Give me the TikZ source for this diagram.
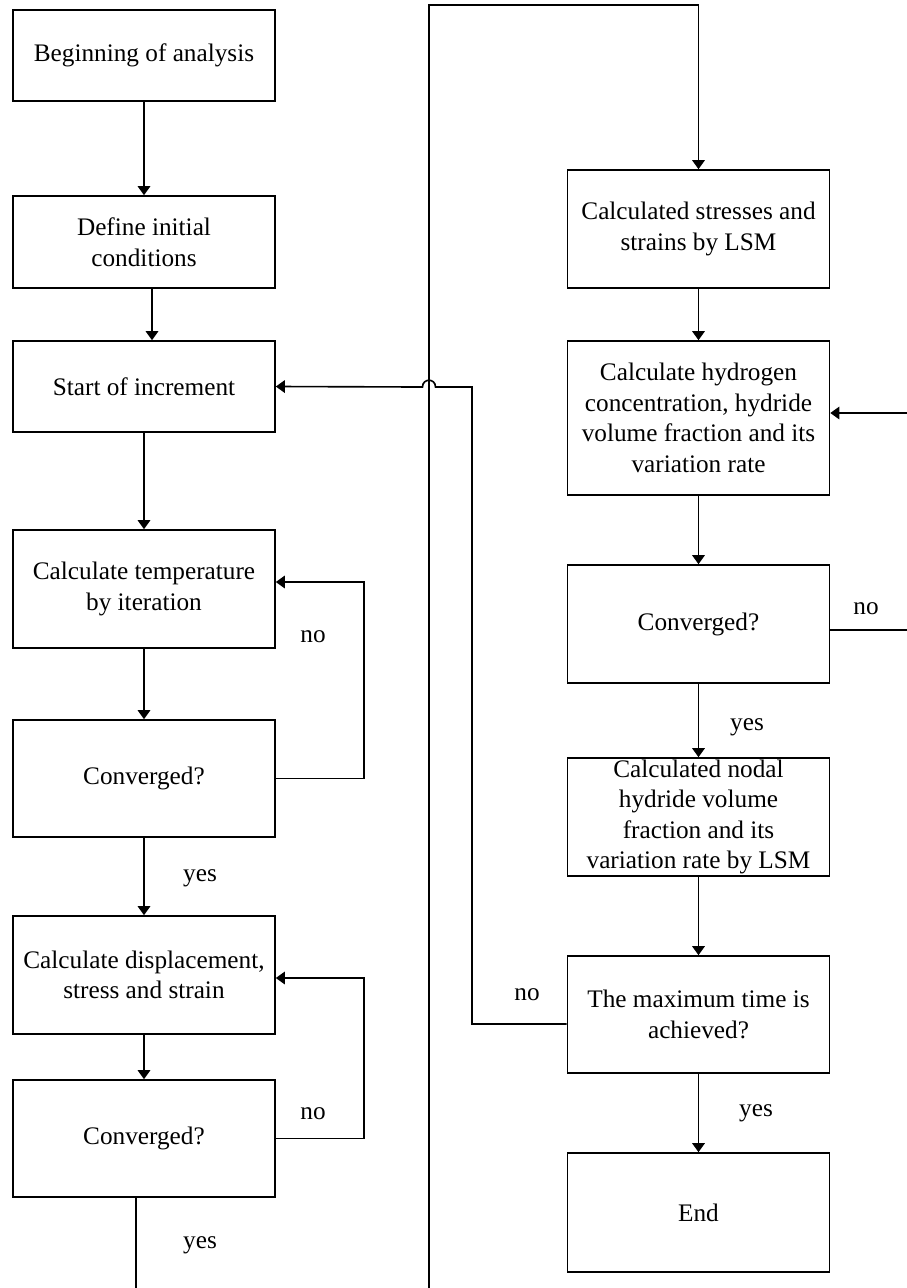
\documentclass[tikz,border=0pt]{standalone}
\usepackage{fontspec}
\setmainfont{Liberation Serif}
\usetikzlibrary{arrows.meta}

\tikzset{
  box/.style={draw,line width=0.65pt,inner sep=0pt,minimum width=262*0.4pt,align=center},
  link/.style={line width=0.65pt,-{Triangle[width=5pt,length=3.6pt]}},
  lbl/.style={inner sep=0pt}
}

\begin{document}
\begin{tikzpicture}[x=0.4pt,y=-0.4pt,font=\fontsize{10.1}{12.2}\selectfont]
\useasboundingbox (0,0) rectangle (907,1288);
\clip (0,0) rectangle (907,1288);

\node[box,minimum height=91*0.4pt] (begin) at (144,55.5) {Beginning of analysis};
\node[box,minimum height=92*0.4pt] (init) at (144,242) {Define initial\\conditions};
\node[box,minimum height=91*0.4pt] (incr) at (144,386.5) {Start of increment};
\node[box,minimum height=118*0.4pt] (temp) at (144,589) {Calculate temperature\\by iteration};
\node[box,minimum height=117*0.4pt] (convT) at (144,778.5) {Converged?};
\node[box,minimum height=118*0.4pt] (disp) at (144,975) {Calculate displacement,\\stress and strain};
\node[box,minimum height=117*0.4pt] (convD) at (144,1138.5) {Converged?};

\node[box,minimum height=118*0.4pt] (stress) at (698.5,229) {Calculated stresses and\\strains by LSM};
\node[box,minimum height=154*0.4pt] (hydro) at (698.5,418) {Calculate hydrogen\\concentration, hydride\\volume fraction and its\\variation rate};
\node[box,minimum height=118*0.4pt] (convH) at (698.5,624) {Converged?};
\node[box,minimum height=118*0.4pt] (nodal) at (698.5,817) {Calculated nodal\\hydride volume\\fraction and its\\variation rate by LSM};
\node[box,minimum height=117*0.4pt] (maxt) at (698.5,1014.5) {The maximum time is\\achieved?};
\node[box,minimum height=119*0.4pt] (finish) at (698.5,1212.5) {End};

\coordinate (tloop) at (364,582);
\coordinate (dloop) at (364,978);
\coordinate (hloop) at (915,413);
\coordinate (back) at (472,387);
\coordinate (under) at (429,1310);
\coordinate (over) at (429,5);

\draw[link] (begin) -- (init);
\draw[link] ([xshift=3.2pt]init.south) -- ([xshift=3.2pt]incr.north);
\draw[link] (incr) -- (temp);
\draw[link] (temp) -- (convT);
\draw[link] (convT) -- (disp);
\draw[link] (disp) -- (convD);

\draw[link] (convT.east) -| (tloop) -- (tloop -| temp.east);
\draw[link] (convD.east) -| (dloop) -- (dloop -| disp.east);

\draw[link] (stress) -- (hydro);
\draw[link] (hydro) -- (convH);
\draw[link] (convH) -- (nodal);
\draw[link] (nodal) -- (maxt);
\draw[link] (maxt) -- (finish);

\draw[link] ([yshift=-2.4pt]convH.east) -| (hloop) -- (hloop -| hydro.east);
\draw[link] ([yshift=-3.8pt]maxt.west) -| (back) -- (435.5,387)
  .. controls (435.5,378) and (422.5,378) .. (422.5,387) -- (incr.east);
\draw[link] ([xshift=-3.2pt]convD.south) |- (under) -- (over) -| (stress.north);

\node[lbl] (noT) at (313,637) {no};
\node[lbl] (yesT) at (200,878) {yes};
\node[lbl] (noD) at (313,1114) {no};
\node[lbl] (yesD) at (200,1245) {yes};
\node[lbl] (noH) at (866,609) {no};
\node[lbl] (yesH) at (747,727) {yes};
\node[lbl] (noM) at (527,995) {no};
\node[lbl] (yesM) at (756,1113) {yes};
\end{tikzpicture}
\end{document}
